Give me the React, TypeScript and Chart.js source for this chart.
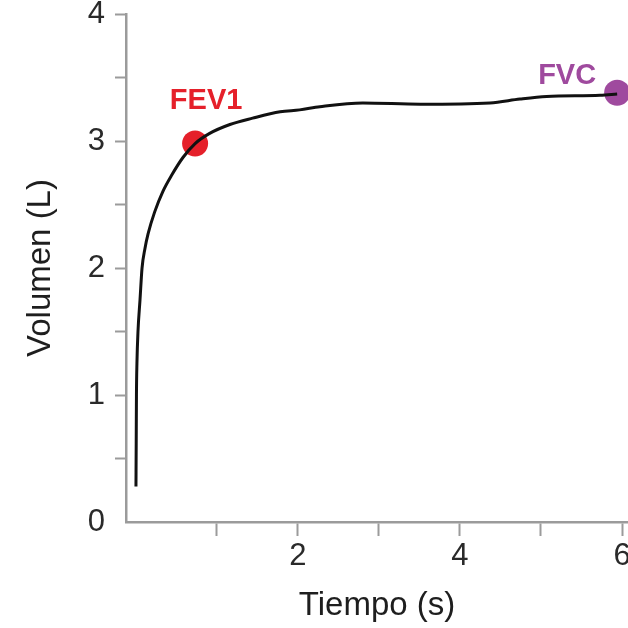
import React, { useEffect, useRef } from "react";
import { Chart, registerables } from "chart.js";

Chart.register(...registerables);

// Volume-time curve (s, L)
const curveTime = [0.0, 0.003, 0.006, 0.012, 0.025, 0.05, 0.075, 0.11, 0.15, 0.23, 0.33, 0.44, 0.58, 0.73, 0.91, 1.16, 1.44, 1.78, 2.02, 2.27, 2.8, 3.51, 4.37, 4.74, 5.07, 5.73, 5.94];
const curveVolume = [0.28, 0.62, 1.0, 1.25, 1.5, 1.75, 2.0, 2.15, 2.27, 2.44, 2.6, 2.73, 2.87, 2.98, 3.06, 3.13, 3.18, 3.23, 3.245, 3.27, 3.3, 3.29, 3.3, 3.33, 3.35, 3.36, 3.37];

const fev1Point = { x: 0.73, y: 2.98 };
const fvcPoint = { x: 5.94, y: 3.38 };
const pointNames = ["FEV1", "FVC"];

const xTickValues = [1, 2, 3, 4, 5, 6];
const xLabeled = [2, 4, 6];
const yLabeled = [0, 1, 2, 3, 4];

const X_MIN = -0.123;
const X_MAX = 6.074;
const Y_MIN = 0;
const Y_MAX = 4;

const FONT = "'Liberation Sans', Arial, Helvetica, sans-serif";
const AXIS_GRAY = "#9b9b9b";
const RED = "#e5202a";
const PURPLE = "#9f4a9e";

const labelPlugin = {
  id: "pointNameLabels",
  afterDatasetsDraw(chart: any) {
    const { ctx, scales } = chart;
    const x = scales.x;
    const y = scales.y;
    const items = [
      { p: fev1Point, text: pointNames[0], color: RED, dx: 11, dy: -43 },
      { p: fvcPoint, text: pointNames[1], color: PURPLE, dx: -50, dy: -17 },
    ];
    ctx.save();
    ctx.font = `bold 29px ${FONT}`;
    ctx.textAlign = "center";
    ctx.textBaseline = "middle";
    items.forEach((it) => {
      ctx.fillStyle = it.color;
      ctx.fillText(it.text, x.getPixelForValue(it.p.x) + it.dx, y.getPixelForValue(it.p.y) + it.dy);
    });
    ctx.restore();
  },
};

export default function App() {
  const ref = useRef<HTMLCanvasElement>(null);

  useEffect(() => {
    if (!ref.current) return;
    const curve = curveTime.map((t, i) => ({ x: t, y: curveVolume[i] }));
    const chart = new Chart(ref.current, {
      type: "scatter",
      data: {
        datasets: [
          {
            data: curve,
            showLine: true,
            borderColor: "#111",
            borderWidth: 3,
            pointRadius: 0,
            cubicInterpolationMode: "monotone",
            clip: false as any,
          },
          {
            data: [fev1Point],
            pointRadius: 13,
            pointBackgroundColor: RED,
            pointBorderWidth: 0,
            clip: false as any,
          },
          {
            data: [fvcPoint],
            pointRadius: 13,
            pointBackgroundColor: PURPLE,
            pointBorderWidth: 0,
            clip: false as any,
          },
        ],
      },
      options: {
        animation: false,
        responsive: false,
        layout: { autoPadding: false, padding: { top: 14, left: 0, right: 0, bottom: 0 } },
        plugins: { legend: { display: false }, tooltip: { enabled: false } },
        scales: {
          x: {
            type: "linear",
            min: X_MIN,
            max: X_MAX,
            afterBuildTicks: (scale: any) => {
              scale.ticks = xTickValues.map((v) => ({ value: v }));
            },
            afterFit: (scale: any) => {
              scale.height = 106;
              scale.paddingLeft = 0;
              scale.paddingRight = 0;
            },
            grid: {
              drawOnChartArea: false,
              drawTicks: true,
              tickLength: 14,
              tickColor: AXIS_GRAY,
              tickWidth: 2,
            },
            border: { display: true, color: AXIS_GRAY, width: 2.5 },
            ticks: {
              autoSkip: false,
              maxRotation: 0,
              padding: 2,
              color: "#2a2a2a",
              font: { family: FONT, size: 31 },
              callback: (v: any) => (xLabeled.includes(Number(v)) ? String(v) : ""),
            },
            title: {
              display: true,
              text: "Tiempo (s)",
              color: "#1e1e1e",
              font: { family: FONT, size: 33 },
              padding: { top: 0, bottom: 2 },
            },
          },
          y: {
            type: "linear",
            min: Y_MIN,
            max: Y_MAX,
            afterFit: (scale: any) => {
              scale.width = 126;
              scale.paddingTop = 0;
              scale.paddingBottom = 0;
            },
            grid: {
              drawOnChartArea: false,
              drawTicks: true,
              tickLength: 11,
              tickColor: (c: any) => (c.tick && c.tick.value === 0 ? "rgba(0,0,0,0)" : AXIS_GRAY),
              tickWidth: 2,
            },
            border: { display: true, color: AXIS_GRAY, width: 2.5 },
            ticks: {
              stepSize: 0.5,
              autoSkip: false,
              padding: 10,
              color: "#2a2a2a",
              font: { family: FONT, size: 31 },
              callback: (v: any) => (yLabeled.includes(Number(v)) ? String(v) : ""),
            },
            title: {
              display: true,
              text: "Volumen (L)",
              color: "#1e1e1e",
              font: { family: FONT, size: 33 },
              padding: { top: 21, bottom: 0 },
            },
          },
        },
      },
      plugins: [labelPlugin],
    });
    return () => chart.destroy();
  }, []);

  return (
    <div style={{ position: "absolute", left: 0, top: 0, width: 628, height: 628, background: "#fff" }}>
      <canvas ref={ref} width={628} height={628} style={{ display: "block" }} />
    </div>
  );
}
